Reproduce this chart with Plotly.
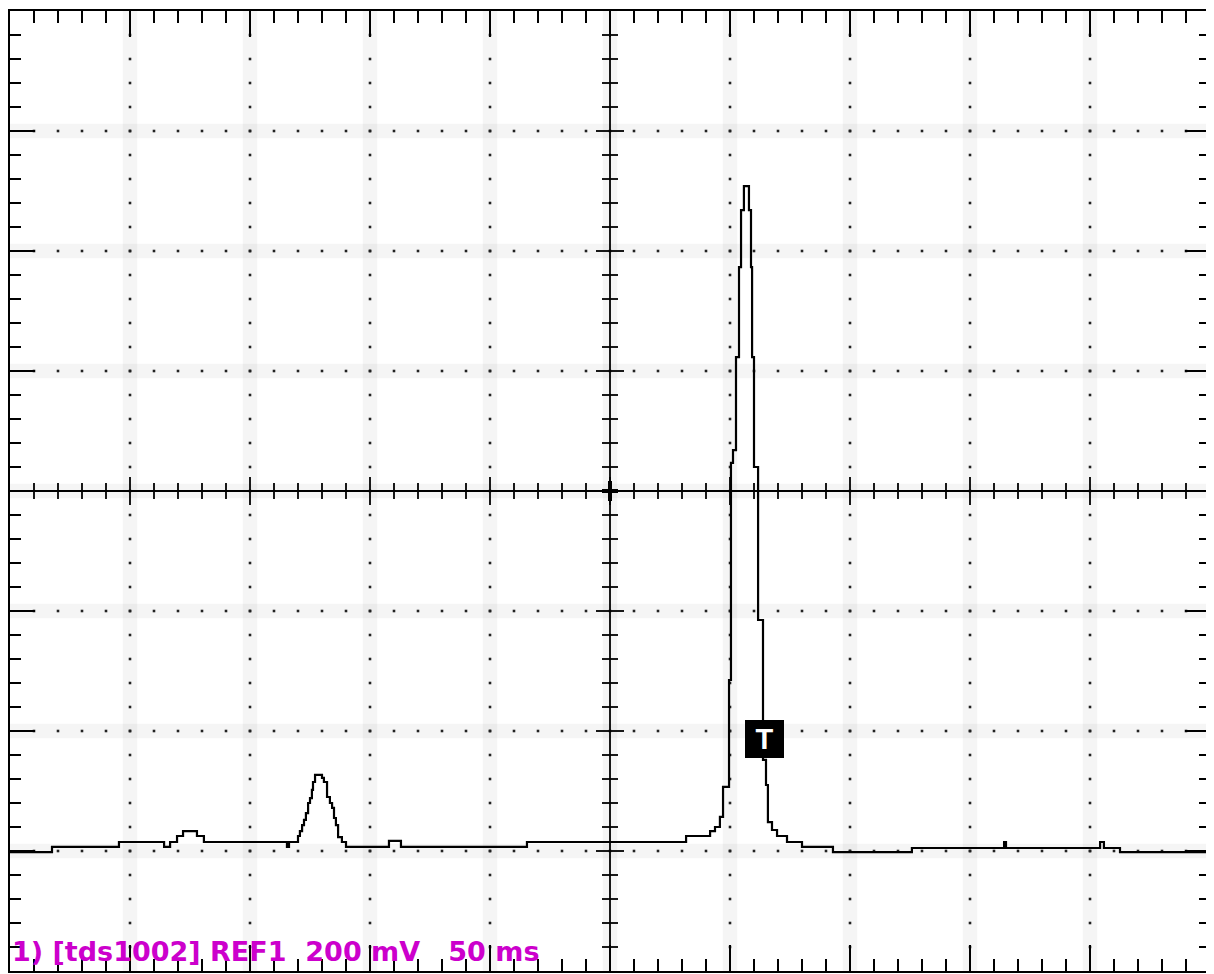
import plotly.graph_objects as go

time_ms = [-250, -232.5, -204.6, -185.8, -183.3, -180.4, -177.9, -172.1, -169.2, -134.6,
           -133.75, -130, -129.2, -128.3, -127.5, -126.7, -125.8, -125, -124.2, -123.75,
           -122.9, -120, -119.2, -117.9, -116.7, -115.8, -115, -114.2, -113.3, -111.7,
           -110, -92.1, -87.1, -34.6, 31.7, 41.7, 43.75, 45.8, 47.1, 49.6,
           50.4, 51.25, 52.5, 53.75, 54.6, 55.8, 57.9, 58.75, 59.2, 60,
           61.7, 63.75, 65, 65.8, 67.5, 69.6, 73.75, 80, 92.9, 125.8,
           164.2, 165, 204.2, 205.8, 212.5, 250]
volt_mV = [-602, -593, -585, -593, -585, -575, -567, -575, -585, -593,
           -585, -575, -567, -557, -548, -537, -520, -512, -498, -485,
           -473, -478, -485, -510, -520, -528, -545, -557, -577, -585,
           -593, -583, -593, -585, -575, -567, -560, -543, -493, -315,
           47, 68, 223, 373, 468, 508, 468, 373, 223, 40,
           -215, -448, -490, -552, -565, -575, -585, -593, -602, -595,
           -585, -595, -585, -595, -602, -602]

# Screen scale
time_range = [-250, 250]      # 50 ms/div, 10 divisions
volt_range = [-800, 800]      # 200 mV/div, 8 divisions
time_div, volt_div = 50, 200
time_minor, volt_minor = 10, 40

grid_t = [-200, -150, -100, -50, 50, 100, 150, 200]
grid_v = [-600, -400, -200, 200, 400, 600]

trigger_t, trigger_v = 64.4, -413
label_text = "1) [tds1002] REF1\u00a0\u00a0200 mV\u00a0\u00a0\u00a050 ms"

fig = go.Figure()

# faint stipple bands around grid lines
shapes = []
band_color = "rgba(0,0,0,0.04)"
for t in grid_t + [0]:
    shapes.append(dict(type="rect", xref="x", yref="y", x0=t - 3, x1=t + 3,
                       y0=volt_range[0], y1=volt_range[1], fillcolor=band_color,
                       line_width=0, layer="below"))
for v in grid_v + [0]:
    shapes.append(dict(type="rect", xref="x", yref="y", x0=time_range[0], x1=time_range[1],
                       y0=v - 12, y1=v + 12, fillcolor=band_color,
                       line_width=0, layer="below"))

# grid dots
n_v = int((volt_range[1] - volt_range[0]) / volt_minor)
n_t = int((time_range[1] - time_range[0]) / time_minor)
dot_x, dot_y = [], []
for t in grid_t:
    for k in range(1, n_v):
        dot_x.append(t)
        dot_y.append(volt_range[0] + k * volt_minor)
for v in grid_v:
    for k in range(1, n_t):
        dot_x.append(time_range[0] + k * time_minor)
        dot_y.append(v)
fig.add_trace(go.Scatter(x=dot_x, y=dot_y, mode="markers",
                         marker=dict(symbol="square", size=2.6, color="#222222"),
                         hoverinfo="skip", showlegend=False))

# centre crosshair with ticks
px_t = (time_range[1] - time_range[0]) / 1200.0
px_v = (volt_range[1] - volt_range[0]) / 960.0
cx, cy = [], []
cx += [time_range[0], time_range[1], None, 0, 0, None]
cy += [0, 0, None, volt_range[0], volt_range[1], None]
for k in range(1, n_t):
    t = time_range[0] + k * time_minor
    h = (14 if t % time_div == 0 else 8) * px_v
    cx += [t, t, None]
    cy += [-h, h, None]
for k in range(1, n_v):
    v = volt_range[0] + k * volt_minor
    w = (14 if v % volt_div == 0 else 8) * px_t
    cx += [-w, w, None]
    cy += [v, v, None]
fig.add_trace(go.Scatter(x=cx, y=cy, mode="lines", line=dict(color="black", width=1.8),
                         hoverinfo="skip", showlegend=False))
# thicker centre plus
fig.add_trace(go.Scatter(x=[-8 * px_t, 8 * px_t, None, 0, 0],
                         y=[0, 0, None, -10 * px_v, 10 * px_v],
                         mode="lines", line=dict(color="black", width=4),
                         hoverinfo="skip", showlegend=False))

# waveform
fig.add_trace(go.Scatter(x=time_ms, y=volt_mV, mode="lines",
                         line=dict(color="black", width=2.2, shape="hv"),
                         showlegend=False))

axis_common = dict(showgrid=False, zeroline=False, showline=True, linecolor="black",
                   linewidth=2, mirror="ticks", ticks="inside", tickcolor="black",
                   tickwidth=2, showticklabels=False, fixedrange=True)

fig.update_xaxes(range=time_range, tick0=0, dtick=time_div, ticklen=26,
                 minor=dict(ticks="inside", tick0=0, dtick=time_minor, ticklen=12,
                            tickwidth=2, tickcolor="black", showgrid=False),
                 **axis_common)
fig.update_yaxes(range=volt_range, tick0=0, dtick=volt_div, ticklen=25,
                 minor=dict(ticks="inside", tick0=0, dtick=volt_minor, ticklen=11,
                            tickwidth=2, tickcolor="black", showgrid=False),
                 **axis_common)

annotations = [
    dict(x=trigger_t, y=trigger_v, xref="x", yref="y", text="<b>T</b>", showarrow=False,
         font=dict(family="Liberation Sans, Arial, sans-serif", size=29, color="white"),
         bgcolor="black", width=35, height=34, borderpad=1, bordercolor="black",
         xanchor="center", yanchor="middle"),
    dict(x=0, y=0, xref="paper", yref="paper", xanchor="left", yanchor="bottom",
         xshift=0, yshift=2, text="<b>" + label_text + "</b>", showarrow=False,
         font=dict(family="DejaVu Sans, Verdana, sans-serif", size=27, color="#CC00CC")),
]

# page body adds an 8 px margin; figure sized so the plot area lands at x 10-1210, y 11-971
fig.update_layout(width=1206, height=966, margin=dict(l=2, r=4, t=3, b=3),
                  paper_bgcolor="white", plot_bgcolor="white",
                  shapes=shapes, annotations=annotations, showlegend=False)

fig.write_html("out.html")
